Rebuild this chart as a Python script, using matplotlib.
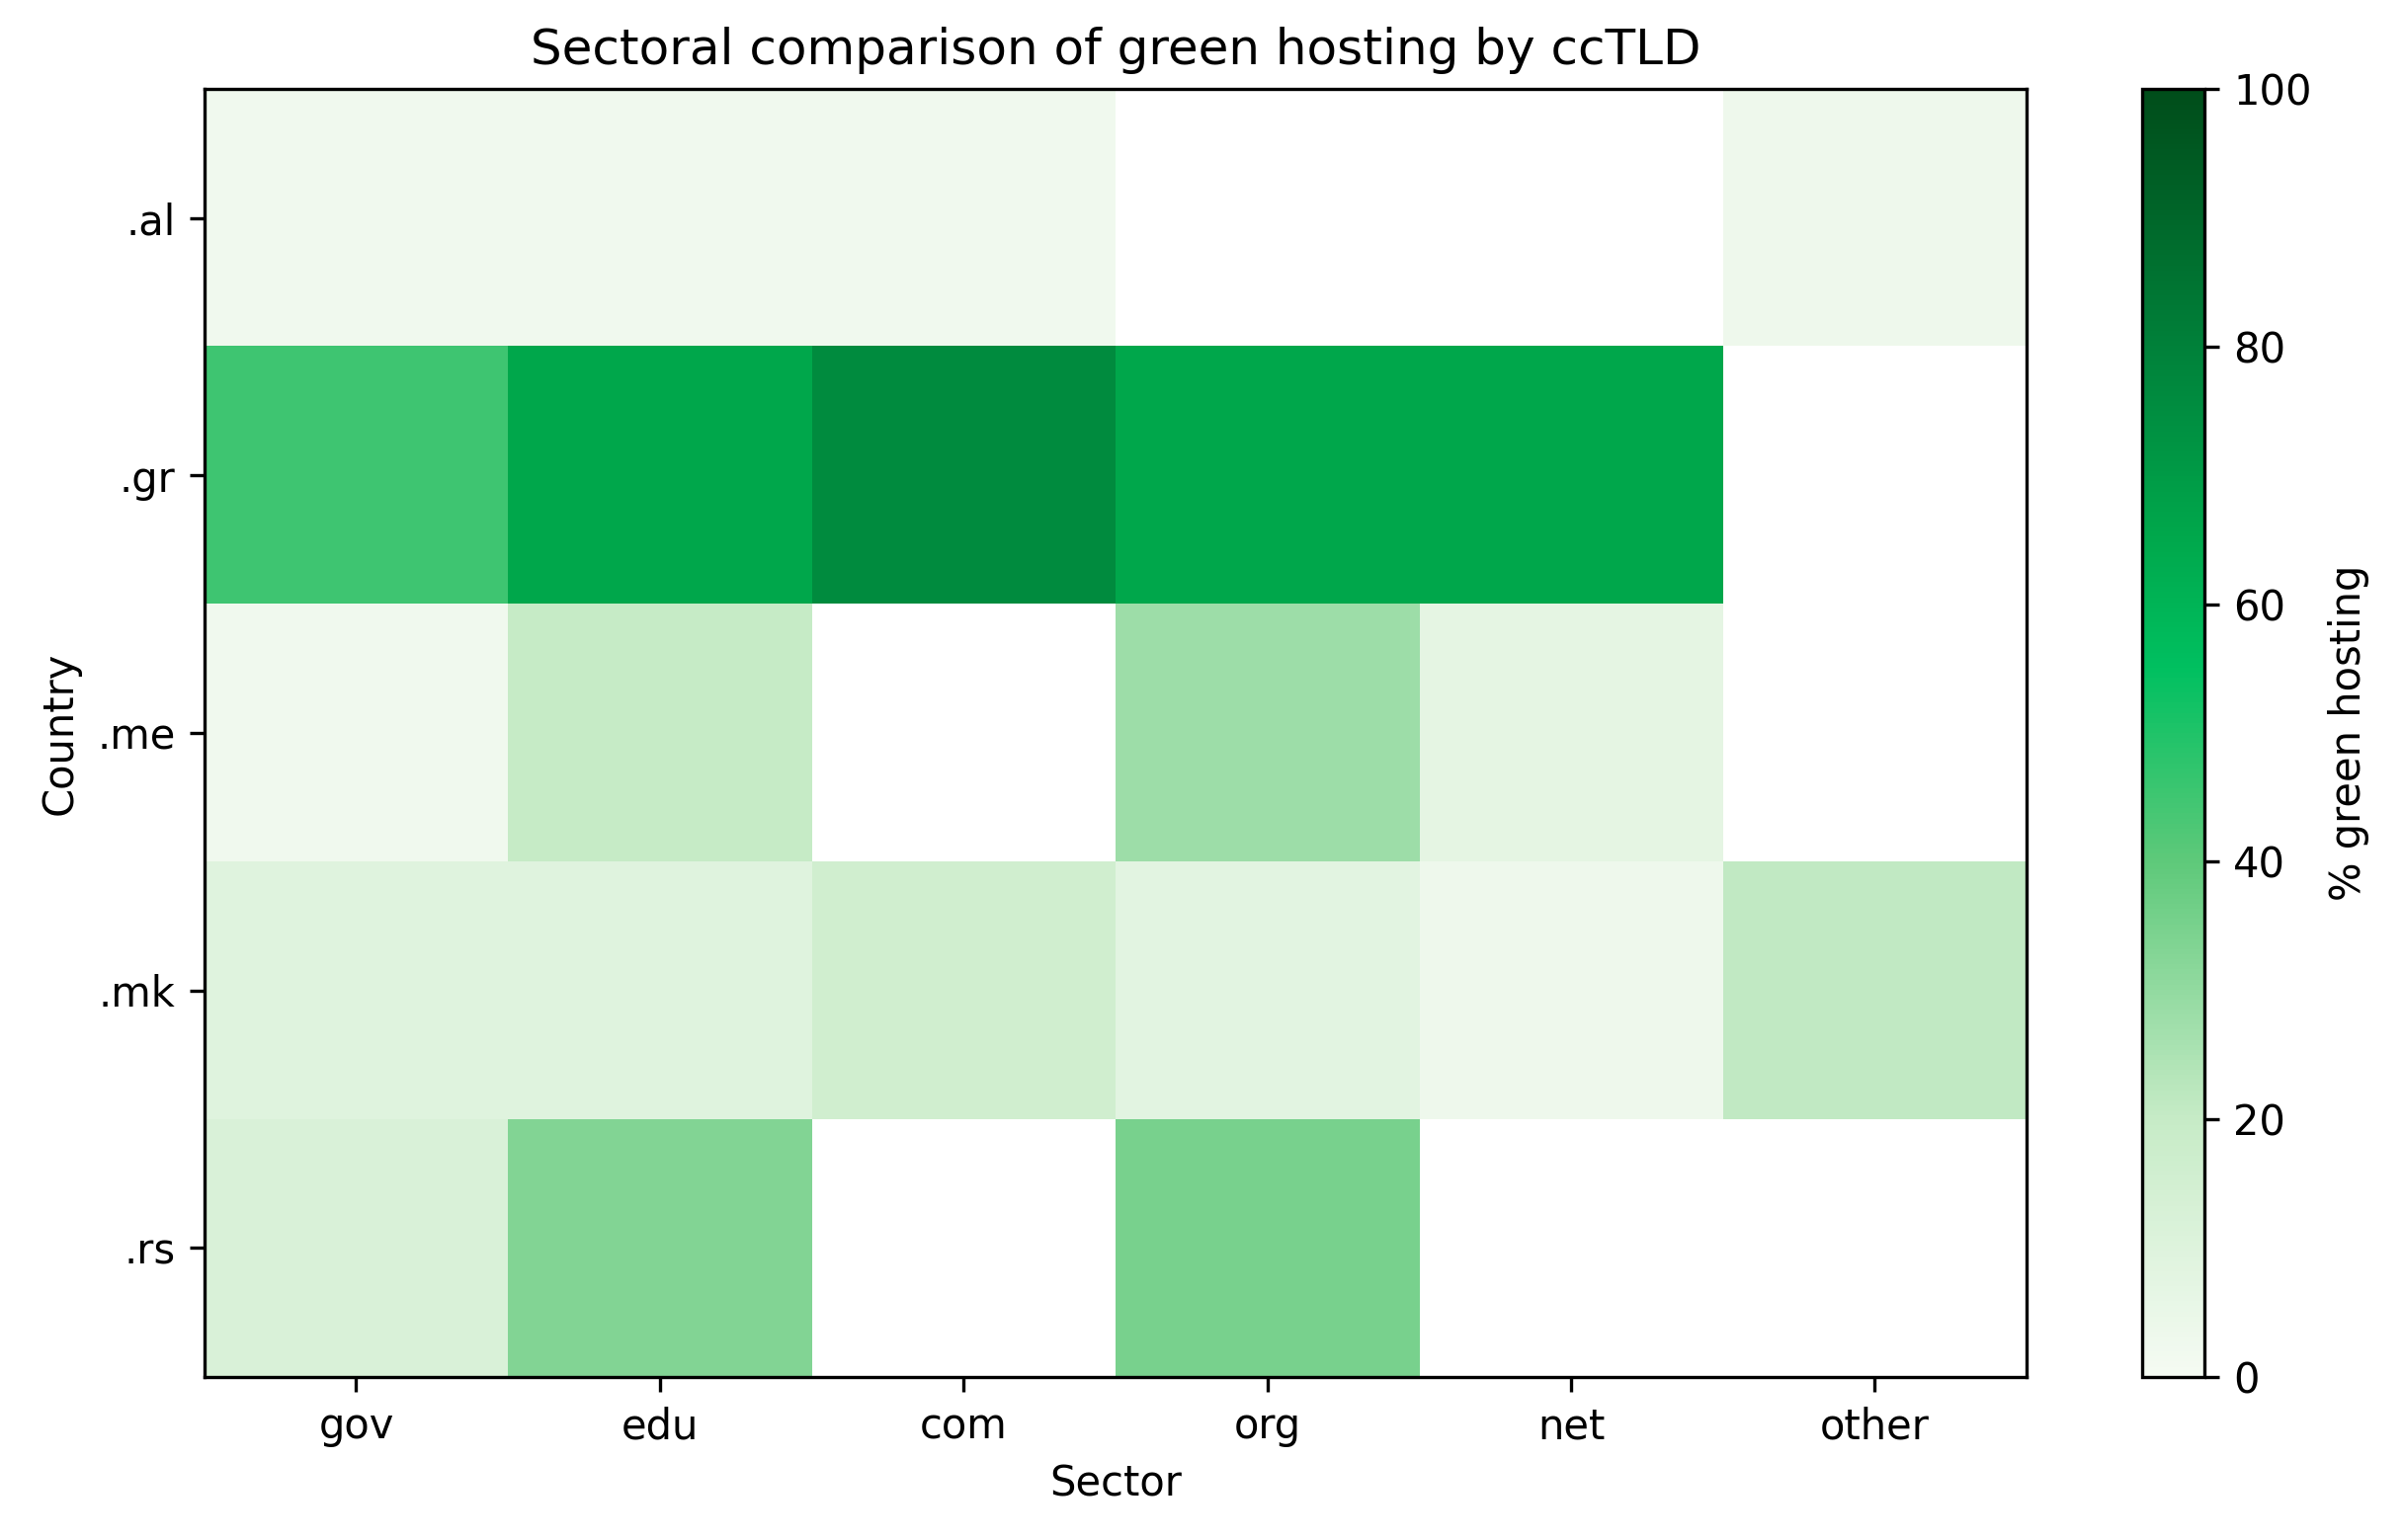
import numpy as np
import matplotlib.pyplot as plt
from matplotlib.colors import LinearSegmentedColormap

countries = ['.al', '.gr', '.me', '.mk', '.rs']
sectors = ['gov', 'edu', 'com', 'org', 'net', 'other']
nan = np.nan
al = [2, 2, 2, nan, nan, 3]
gr = [45, 65, 76, 65, 65, nan]
me = [2, 20, nan, 28, 7, nan]
mk = [9, 9, 16, 8, 3, 21]
rs = [12, 33, nan, 35, nan, nan]
values = np.array([al, gr, me, mk, rs], dtype=float)

cmap = LinearSegmentedColormap.from_list('green', [
    (0.0, '#f5fbf3'), (0.2, '#c6ebc6'), (0.4, '#5ec97a'),
    (0.55, '#00c060'), (0.65, '#00a84c'), (0.8, '#00813a'), (1.0, '#004d1a')])
cmap.set_bad('white')

fig = plt.figure(figsize=(8.11, 5.197), dpi=300)
ax = fig.add_axes([0.085, 0.106, 0.758, 0.836])
cax = fig.add_axes([0.891, 0.106, 0.026, 0.836])
im = ax.imshow(np.ma.masked_invalid(values), cmap=cmap, vmin=0, vmax=100, aspect='auto')
ax.set_xticks(range(len(sectors)))
ax.set_xticklabels(sectors)
ax.set_yticks(range(len(countries)))
ax.set_yticklabels(countries)
ax.set_xlabel('Sector')
ax.set_ylabel('Country')
ax.set_title('Sectoral comparison of green hosting by ccTLD', fontsize=12)
cb = fig.colorbar(im, cax=cax)
cb.set_label('% green hosting')
plt.savefig('out.png', dpi=300)
